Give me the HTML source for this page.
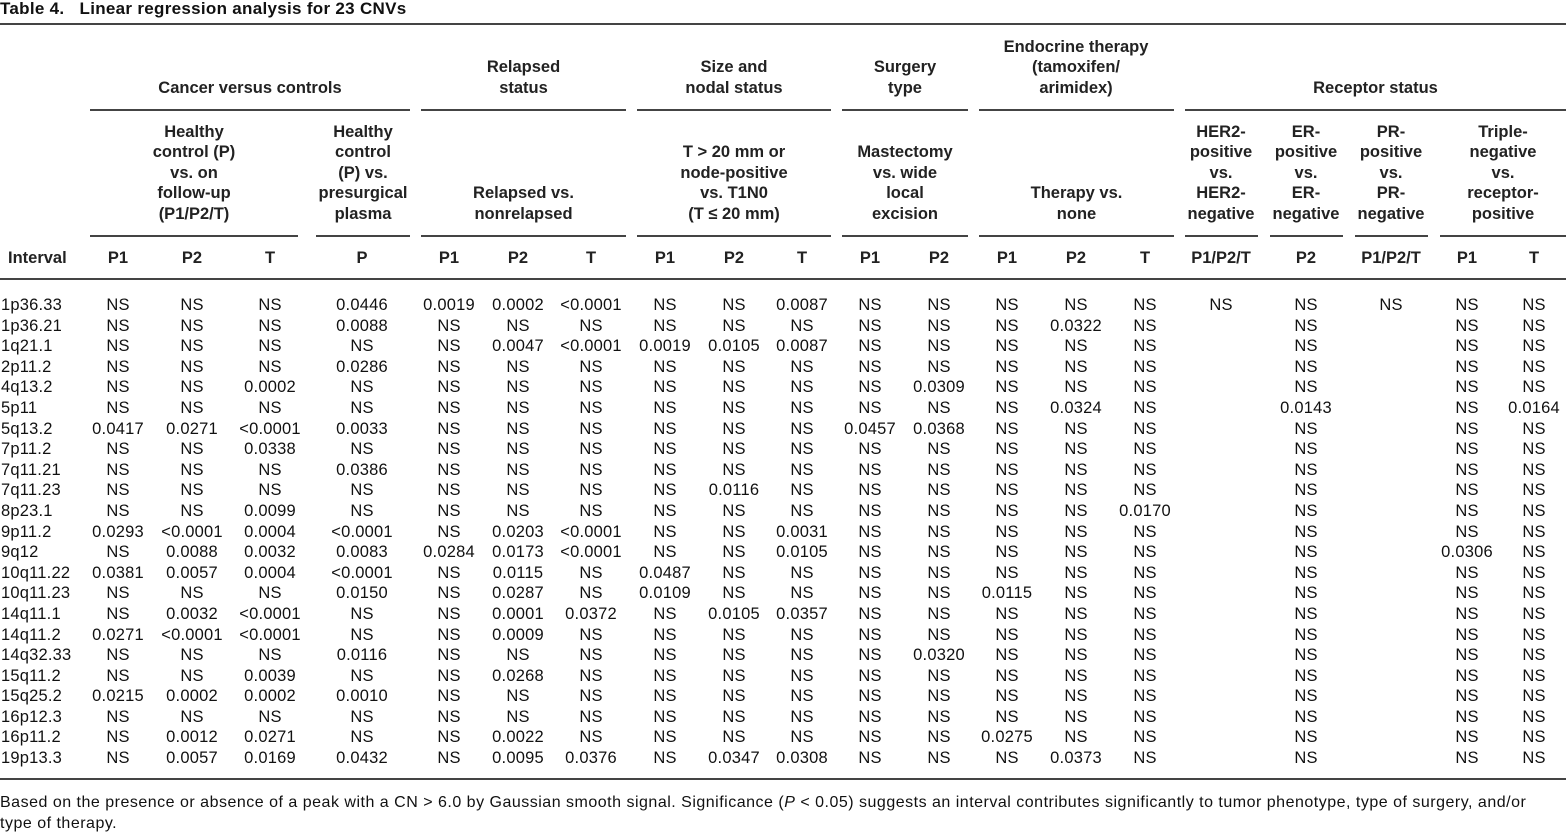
<!DOCTYPE html>
<html><head><meta charset="utf-8"><style>
body{margin:0;width:1566px;height:835px;position:relative;background:#fff;font-family:"Liberation Sans",sans-serif;color:#111;overflow:hidden}
.a{position:absolute}
.ln{position:absolute;height:2px;background:#444}
.h{position:absolute;text-align:center;font-size:16.5px;font-weight:bold;line-height:20.5px;color:#222}
table{position:absolute;left:0;top:295px;border-collapse:collapse;table-layout:fixed;font-size:16.5px;letter-spacing:0.2px}
td{padding:0;height:20.6px;line-height:20.6px;text-align:center;white-space:nowrap}
td:first-child{text-align:left;padding-left:1px}
</style></head><body>
<div class="a" style="left:0;top:0;font-size:17px;font-weight:bold;line-height:18px;letter-spacing:0.3px">Table 4.&nbsp;&nbsp;&nbsp;Linear regression analysis for 23 CNVs</div>
<div class="ln" style="left:0;width:1566px;top:23px"></div>
<div class="h" style="left:90px;width:320px;bottom:737px">Cancer versus controls</div>
<div class="h" style="left:421px;width:205px;bottom:737px">Relapsed<br>status</div>
<div class="h" style="left:637px;width:194px;bottom:737px">Size and<br>nodal status</div>
<div class="h" style="left:842px;width:126px;bottom:737px">Surgery<br>type</div>
<div class="h" style="left:970px;width:212px;bottom:737px">Endocrine therapy<br>(tamoxifen/<br>arimidex)</div>
<div class="h" style="left:1185px;width:381px;bottom:737px">Receptor status</div>
<div class="ln" style="left:90px;width:320px;top:109px"></div>
<div class="ln" style="left:421px;width:205px;top:109px"></div>
<div class="ln" style="left:637px;width:194px;top:109px"></div>
<div class="ln" style="left:842px;width:126px;top:109px"></div>
<div class="ln" style="left:979px;width:195px;top:109px"></div>
<div class="ln" style="left:1185px;width:381px;top:109px"></div>
<div class="h" style="left:90px;width:208px;bottom:611px">Healthy<br>control (P)<br>vs. on<br>follow-up<br>(P1/P2/T)</div>
<div class="h" style="left:312px;width:102px;bottom:611px">Healthy<br>control<br>(P) vs.<br>presurgical<br>plasma</div>
<div class="h" style="left:421px;width:205px;bottom:611px">Relapsed vs.<br>nonrelapsed</div>
<div class="h" style="left:637px;width:194px;bottom:611px">T &gt; 20 mm or<br>node-positive<br>vs. T1N0<br>(T ≤ 20 mm)</div>
<div class="h" style="left:842px;width:126px;bottom:611px">Mastectomy<br>vs. wide<br>local<br>excision</div>
<div class="h" style="left:979px;width:195px;bottom:611px">Therapy vs.<br>none</div>
<div class="h" style="left:1180px;width:82px;bottom:611px">HER2-<br>positive<br>vs.<br>HER2-<br>negative</div>
<div class="h" style="left:1264px;width:84px;bottom:611px">ER-<br>positive<br>vs.<br>ER-<br>negative</div>
<div class="h" style="left:1350px;width:82px;bottom:611px">PR-<br>positive<br>vs.<br>PR-<br>negative</div>
<div class="h" style="left:1440px;width:126px;bottom:611px">Triple-<br>negative<br>vs.<br>receptor-<br>positive</div>
<div class="ln" style="left:90px;width:208px;top:235px"></div>
<div class="ln" style="left:316px;width:94px;top:235px"></div>
<div class="ln" style="left:421px;width:205px;top:235px"></div>
<div class="ln" style="left:637px;width:194px;top:235px"></div>
<div class="ln" style="left:842px;width:126px;top:235px"></div>
<div class="ln" style="left:979px;width:195px;top:235px"></div>
<div class="ln" style="left:1185px;width:73px;top:235px"></div>
<div class="ln" style="left:1270px;width:73px;top:235px"></div>
<div class="ln" style="left:1355px;width:73px;top:235px"></div>
<div class="ln" style="left:1440px;width:126px;top:235px"></div>
<div class="h" style="left:8px;top:248px">Interval</div>
<div class="h" style="left:80px;width:76px;top:248px">P1</div>
<div class="h" style="left:156px;width:72px;top:248px">P2</div>
<div class="h" style="left:228px;width:84px;top:248px">T</div>
<div class="h" style="left:312px;width:100px;top:248px">P</div>
<div class="h" style="left:412px;width:74px;top:248px">P1</div>
<div class="h" style="left:486px;width:64px;top:248px">P2</div>
<div class="h" style="left:550px;width:82px;top:248px">T</div>
<div class="h" style="left:632px;width:66px;top:248px">P1</div>
<div class="h" style="left:698px;width:72px;top:248px">P2</div>
<div class="h" style="left:770px;width:64px;top:248px">T</div>
<div class="h" style="left:834px;width:72px;top:248px">P1</div>
<div class="h" style="left:906px;width:66px;top:248px">P2</div>
<div class="h" style="left:972px;width:70px;top:248px">P1</div>
<div class="h" style="left:1042px;width:68px;top:248px">P2</div>
<div class="h" style="left:1110px;width:70px;top:248px">T</div>
<div class="h" style="left:1180px;width:82px;top:248px">P1/P2/T</div>
<div class="h" style="left:1262px;width:88px;top:248px">P2</div>
<div class="h" style="left:1350px;width:82px;top:248px">P1/P2/T</div>
<div class="h" style="left:1432px;width:70px;top:248px">P1</div>
<div class="h" style="left:1502px;width:64px;top:248px">T</div>
<div class="ln" style="left:0;width:1566px;top:278px"></div>
<table>
<colgroup><col style="width:80px"><col style="width:76px"><col style="width:72px"><col style="width:84px"><col style="width:100px"><col style="width:74px"><col style="width:64px"><col style="width:82px"><col style="width:66px"><col style="width:72px"><col style="width:64px"><col style="width:72px"><col style="width:66px"><col style="width:70px"><col style="width:68px"><col style="width:70px"><col style="width:82px"><col style="width:88px"><col style="width:82px"><col style="width:70px"><col style="width:64px"></colgroup>
<tr><td>1p36.33</td><td>NS</td><td>NS</td><td>NS</td><td>0.0446</td><td>0.0019</td><td>0.0002</td><td>&lt;0.0001</td><td>NS</td><td>NS</td><td>0.0087</td><td>NS</td><td>NS</td><td>NS</td><td>NS</td><td>NS</td><td>NS</td><td>NS</td><td>NS</td><td>NS</td><td>NS</td></tr>
<tr><td>1p36.21</td><td>NS</td><td>NS</td><td>NS</td><td>0.0088</td><td>NS</td><td>NS</td><td>NS</td><td>NS</td><td>NS</td><td>NS</td><td>NS</td><td>NS</td><td>NS</td><td>0.0322</td><td>NS</td><td></td><td>NS</td><td></td><td>NS</td><td>NS</td></tr>
<tr><td>1q21.1</td><td>NS</td><td>NS</td><td>NS</td><td>NS</td><td>NS</td><td>0.0047</td><td>&lt;0.0001</td><td>0.0019</td><td>0.0105</td><td>0.0087</td><td>NS</td><td>NS</td><td>NS</td><td>NS</td><td>NS</td><td></td><td>NS</td><td></td><td>NS</td><td>NS</td></tr>
<tr><td>2p11.2</td><td>NS</td><td>NS</td><td>NS</td><td>0.0286</td><td>NS</td><td>NS</td><td>NS</td><td>NS</td><td>NS</td><td>NS</td><td>NS</td><td>NS</td><td>NS</td><td>NS</td><td>NS</td><td></td><td>NS</td><td></td><td>NS</td><td>NS</td></tr>
<tr><td>4q13.2</td><td>NS</td><td>NS</td><td>0.0002</td><td>NS</td><td>NS</td><td>NS</td><td>NS</td><td>NS</td><td>NS</td><td>NS</td><td>NS</td><td>0.0309</td><td>NS</td><td>NS</td><td>NS</td><td></td><td>NS</td><td></td><td>NS</td><td>NS</td></tr>
<tr><td>5p11</td><td>NS</td><td>NS</td><td>NS</td><td>NS</td><td>NS</td><td>NS</td><td>NS</td><td>NS</td><td>NS</td><td>NS</td><td>NS</td><td>NS</td><td>NS</td><td>0.0324</td><td>NS</td><td></td><td>0.0143</td><td></td><td>NS</td><td>0.0164</td></tr>
<tr><td>5q13.2</td><td>0.0417</td><td>0.0271</td><td>&lt;0.0001</td><td>0.0033</td><td>NS</td><td>NS</td><td>NS</td><td>NS</td><td>NS</td><td>NS</td><td>0.0457</td><td>0.0368</td><td>NS</td><td>NS</td><td>NS</td><td></td><td>NS</td><td></td><td>NS</td><td>NS</td></tr>
<tr><td>7p11.2</td><td>NS</td><td>NS</td><td>0.0338</td><td>NS</td><td>NS</td><td>NS</td><td>NS</td><td>NS</td><td>NS</td><td>NS</td><td>NS</td><td>NS</td><td>NS</td><td>NS</td><td>NS</td><td></td><td>NS</td><td></td><td>NS</td><td>NS</td></tr>
<tr><td>7q11.21</td><td>NS</td><td>NS</td><td>NS</td><td>0.0386</td><td>NS</td><td>NS</td><td>NS</td><td>NS</td><td>NS</td><td>NS</td><td>NS</td><td>NS</td><td>NS</td><td>NS</td><td>NS</td><td></td><td>NS</td><td></td><td>NS</td><td>NS</td></tr>
<tr><td>7q11.23</td><td>NS</td><td>NS</td><td>NS</td><td>NS</td><td>NS</td><td>NS</td><td>NS</td><td>NS</td><td>0.0116</td><td>NS</td><td>NS</td><td>NS</td><td>NS</td><td>NS</td><td>NS</td><td></td><td>NS</td><td></td><td>NS</td><td>NS</td></tr>
<tr><td>8p23.1</td><td>NS</td><td>NS</td><td>0.0099</td><td>NS</td><td>NS</td><td>NS</td><td>NS</td><td>NS</td><td>NS</td><td>NS</td><td>NS</td><td>NS</td><td>NS</td><td>NS</td><td>0.0170</td><td></td><td>NS</td><td></td><td>NS</td><td>NS</td></tr>
<tr><td>9p11.2</td><td>0.0293</td><td>&lt;0.0001</td><td>0.0004</td><td>&lt;0.0001</td><td>NS</td><td>0.0203</td><td>&lt;0.0001</td><td>NS</td><td>NS</td><td>0.0031</td><td>NS</td><td>NS</td><td>NS</td><td>NS</td><td>NS</td><td></td><td>NS</td><td></td><td>NS</td><td>NS</td></tr>
<tr><td>9q12</td><td>NS</td><td>0.0088</td><td>0.0032</td><td>0.0083</td><td>0.0284</td><td>0.0173</td><td>&lt;0.0001</td><td>NS</td><td>NS</td><td>0.0105</td><td>NS</td><td>NS</td><td>NS</td><td>NS</td><td>NS</td><td></td><td>NS</td><td></td><td>0.0306</td><td>NS</td></tr>
<tr><td>10q11.22</td><td>0.0381</td><td>0.0057</td><td>0.0004</td><td>&lt;0.0001</td><td>NS</td><td>0.0115</td><td>NS</td><td>0.0487</td><td>NS</td><td>NS</td><td>NS</td><td>NS</td><td>NS</td><td>NS</td><td>NS</td><td></td><td>NS</td><td></td><td>NS</td><td>NS</td></tr>
<tr><td>10q11.23</td><td>NS</td><td>NS</td><td>NS</td><td>0.0150</td><td>NS</td><td>0.0287</td><td>NS</td><td>0.0109</td><td>NS</td><td>NS</td><td>NS</td><td>NS</td><td>0.0115</td><td>NS</td><td>NS</td><td></td><td>NS</td><td></td><td>NS</td><td>NS</td></tr>
<tr><td>14q11.1</td><td>NS</td><td>0.0032</td><td>&lt;0.0001</td><td>NS</td><td>NS</td><td>0.0001</td><td>0.0372</td><td>NS</td><td>0.0105</td><td>0.0357</td><td>NS</td><td>NS</td><td>NS</td><td>NS</td><td>NS</td><td></td><td>NS</td><td></td><td>NS</td><td>NS</td></tr>
<tr><td>14q11.2</td><td>0.0271</td><td>&lt;0.0001</td><td>&lt;0.0001</td><td>NS</td><td>NS</td><td>0.0009</td><td>NS</td><td>NS</td><td>NS</td><td>NS</td><td>NS</td><td>NS</td><td>NS</td><td>NS</td><td>NS</td><td></td><td>NS</td><td></td><td>NS</td><td>NS</td></tr>
<tr><td>14q32.33</td><td>NS</td><td>NS</td><td>NS</td><td>0.0116</td><td>NS</td><td>NS</td><td>NS</td><td>NS</td><td>NS</td><td>NS</td><td>NS</td><td>0.0320</td><td>NS</td><td>NS</td><td>NS</td><td></td><td>NS</td><td></td><td>NS</td><td>NS</td></tr>
<tr><td>15q11.2</td><td>NS</td><td>NS</td><td>0.0039</td><td>NS</td><td>NS</td><td>0.0268</td><td>NS</td><td>NS</td><td>NS</td><td>NS</td><td>NS</td><td>NS</td><td>NS</td><td>NS</td><td>NS</td><td></td><td>NS</td><td></td><td>NS</td><td>NS</td></tr>
<tr><td>15q25.2</td><td>0.0215</td><td>0.0002</td><td>0.0002</td><td>0.0010</td><td>NS</td><td>NS</td><td>NS</td><td>NS</td><td>NS</td><td>NS</td><td>NS</td><td>NS</td><td>NS</td><td>NS</td><td>NS</td><td></td><td>NS</td><td></td><td>NS</td><td>NS</td></tr>
<tr><td>16p12.3</td><td>NS</td><td>NS</td><td>NS</td><td>NS</td><td>NS</td><td>NS</td><td>NS</td><td>NS</td><td>NS</td><td>NS</td><td>NS</td><td>NS</td><td>NS</td><td>NS</td><td>NS</td><td></td><td>NS</td><td></td><td>NS</td><td>NS</td></tr>
<tr><td>16p11.2</td><td>NS</td><td>0.0012</td><td>0.0271</td><td>NS</td><td>NS</td><td>0.0022</td><td>NS</td><td>NS</td><td>NS</td><td>NS</td><td>NS</td><td>NS</td><td>0.0275</td><td>NS</td><td>NS</td><td></td><td>NS</td><td></td><td>NS</td><td>NS</td></tr>
<tr><td>19p13.3</td><td>NS</td><td>0.0057</td><td>0.0169</td><td>0.0432</td><td>NS</td><td>0.0095</td><td>0.0376</td><td>NS</td><td>0.0347</td><td>0.0308</td><td>NS</td><td>NS</td><td>NS</td><td>0.0373</td><td>NS</td><td></td><td>NS</td><td></td><td>NS</td><td>NS</td></tr>
</table>
<div class="ln" style="left:0;width:1566px;top:778px"></div>
<div class="a" style="left:0;top:793px;font-size:16px;line-height:20.5px;width:1566px;letter-spacing:0.5px;white-space:nowrap">Based on the presence or absence of a peak with a CN &gt; 6.0 by Gaussian smooth signal. Significance (<i>P</i> &lt; 0.05) suggests an interval contributes significantly to tumor phenotype, type of surgery, and/or<br>type of therapy.</div>
</body></html>
